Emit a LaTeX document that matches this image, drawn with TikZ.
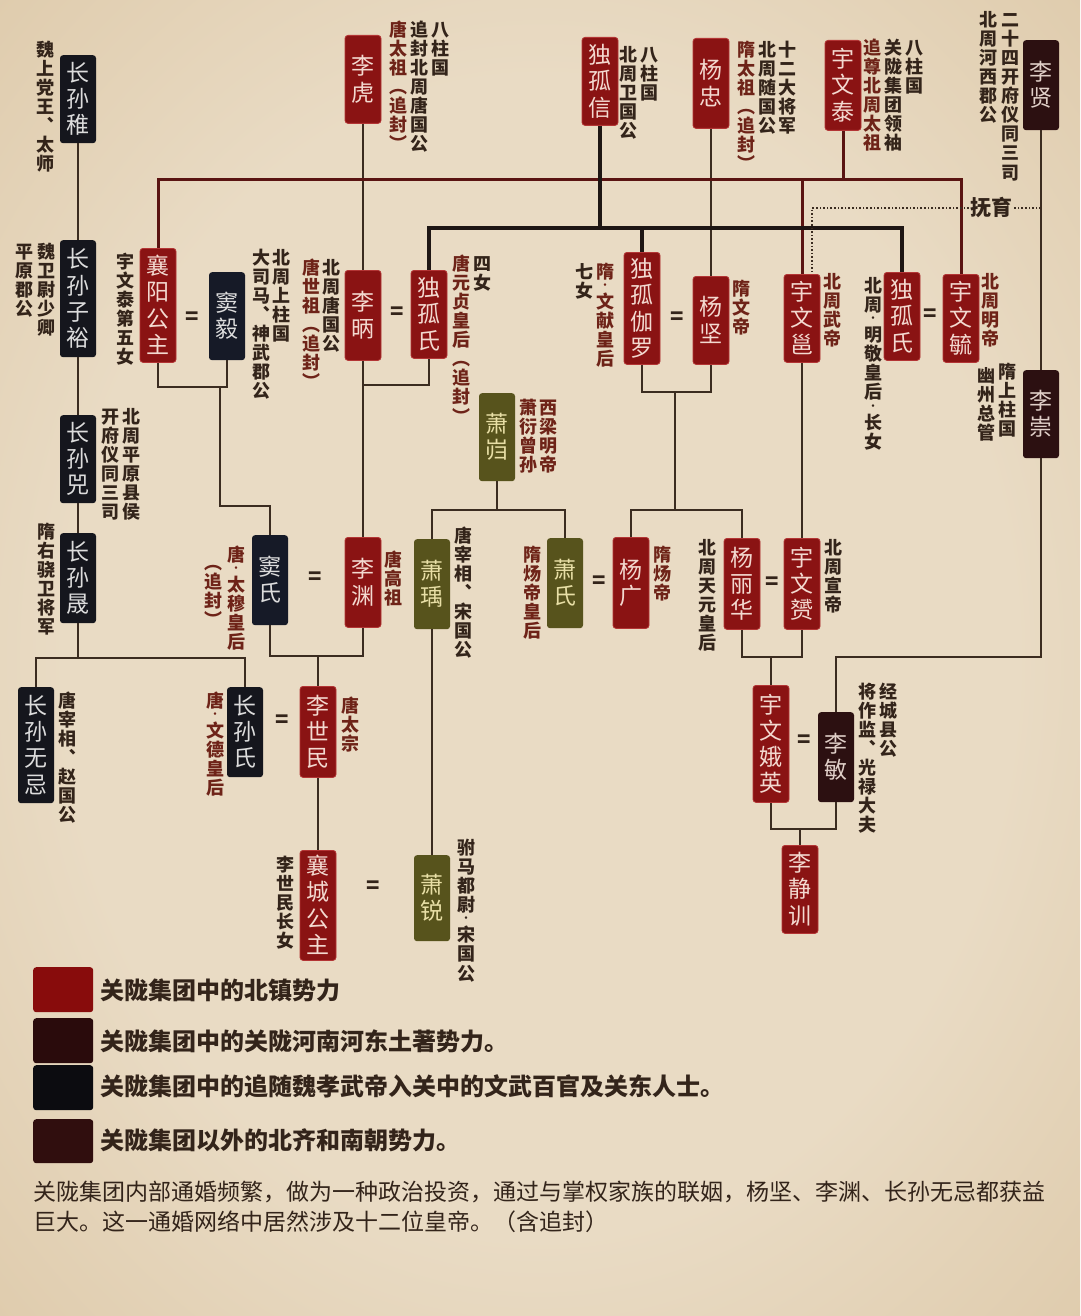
\documentclass[tikz,border=0pt]{standalone}
\usepackage{fontspec}
\setmainfont{Noto Sans CJK SC}
\usetikzlibrary{calc}

\definecolor{bgin}{HTML}{E9DBC4}
\definecolor{bgmid}{HTML}{DCC7A6}
\definecolor{bgout}{HTML}{BF9F76}
\definecolor{bxred}{HTML}{8A1313}
\definecolor{bxredd}{HTML}{B33535}
\definecolor{bxredt}{HTML}{F3D9D0}
\definecolor{bxblk}{HTML}{15161D}
\definecolor{bxblkt}{HTML}{DCDCDC}
\definecolor{bxnavy}{HTML}{161A27}
\definecolor{bxmar}{HTML}{2C1011}
\definecolor{bxmart}{HTML}{E0CFC8}
\definecolor{bxolv}{HTML}{57531C}
\definecolor{bxolvt}{HTML}{E8DFA6}
\definecolor{labd}{HTML}{33241A}
\definecolor{labr}{HTML}{6E2318}
\definecolor{lnred}{HTML}{5A1412}
\definecolor{lnblk}{HTML}{1E1614}
\definecolor{lnthin}{HTML}{3B2C20}
\definecolor{lg1}{HTML}{880C0C}
\definecolor{lg2}{HTML}{2A0B0C}
\definecolor{lg3}{HTML}{0C0C10}
\definecolor{lg4}{HTML}{300E0E}

\pgfdeclareradialshading{parch}{\pgfpoint{0bp}{0bp}}{color(0bp)=(bgin); color(22bp)=(bgin); color(40bp)=(bgmid); color(52bp)=(bgout); color(72bp)=(bgout)}

\def\vtf{1.06}
\makeatletter
\newcommand\vcell[1]{\vbox to \vtf em{\vss\hbox to 1em{\hss\raisebox{0pt}[0.84em][0.1em]{#1}\hss}\vss}}
\newcommand\vdcell{\vbox to 0.62em{\vss\hbox to 1em{\hss{\fontsize{9}{9}\selectfont\raisebox{-3.4pt}{\smash{·}}}\hss}\vss}}
\def\vt#1{\vbox{\offinterlineskip\vt@#1\@nil}}
\def\vt@#1{\ifx#1\@nil\else\vt@@{#1}\expandafter\vt@\fi}
\def\vt@@#1{\ifx#1·\vdcell\else\vcell{#1}\fi}
\makeatother

\newcommand\boxfont{\fontsize{23}{23}\selectfont\def\vtf{1.14}}
\newcommand\labfont{\fontsize{18}{18}\selectfont\bfseries\def\vtf{1.06}}
\newcommand\legfont{\fontsize{24}{24}\selectfont\bfseries}
\newcommand\parfont{\fontsize{23}{23}\selectfont}

\tikzset{
  bx/.style={rectangle, rounded corners=3pt, inner sep=0pt, minimum width=36pt, minimum height=88pt, anchor=north, font=\boxfont},
  bred/.style={bx, fill=bxred, draw=bxredd, line width=0.8pt, text=bxredt},
  bblk/.style={bx, fill=bxblk, text=bxblkt},
  bnavy/.style={bx, fill=bxnavy, text=bxblkt},
  bmar/.style={bx, fill=bxmar, text=bxmart},
  bolv/.style={bx, fill=bxolv, text=bxolvt},
  lb/.style={inner sep=0pt, anchor=north, font=\labfont, text=labd},
  lbr/.style={lb, text=labr},
  eqs/.style={inner sep=0pt, font=\fontsize{22}{22}\selectfont\bfseries, text=labd},
  lred/.style={draw=lnred, line width=3pt},
  lblk/.style={draw=lnblk, line width=3.4pt},
  lthin/.style={draw=lnthin, line width=1.4pt},
  ldot/.style={draw=lnthin, line width=1.6pt, dotted},
  sw/.style={rectangle, rounded corners=3pt, inner sep=0pt, minimum width=60pt, minimum height=45pt, anchor=north west},
  legt/.style={inner sep=0pt, anchor=west, font=\legfont, text=labd},
  part/.style={inner sep=0pt, anchor=west, font=\parfont, text=labd}
}

\begin{document}
\begin{tikzpicture}[x=1pt,y=-1pt]
\useasboundingbox (0,0) rectangle (1080,1316);
\shade[shading=parch] (0,0) rectangle (1080,1316);

% ---------- boxes ----------
\node[bblk] (czhi) at (78,55) {\vt{长孙稚}};
\node[bred] (lihu) at (363,35) {\vt{李虎}};
\node[bred] (dgx) at (600,37) {\vt{独孤信}};
\node[bred, minimum height=90pt] (yzh) at (711,38) {\vt{杨忠}};
\node[bred, minimum height=90pt] (ywt) at (843,40) {\vt{宇文泰}};
\node[bmar, minimum height=90pt] (lxian) at (1041,40) {\vt{李贤}};

\node[bblk, minimum height=117pt] (czy) at (78,240) {\vt{长孙子裕}};
\node[bred, minimum height=114pt] (xygz) at (158,248) {\vt{襄阳公主}};
\node[bnavy] (dyi) at (227,272) {\vt{窦毅}};
\node[bred, minimum height=90pt] (libing) at (363,270) {\vt{李昞}};
\node[bred] (dgs1) at (429,270) {\vt{独孤氏}};
\node[bred, minimum height=112pt] (dgjl) at (642,252) {\vt{独孤伽罗}};
\node[bred] (yjian) at (711,276) {\vt{杨坚}};
\node[bred] (ywyong) at (802,274) {\vt{宇文邕}};
\node[bred] (dgs2) at (902,272) {\vt{独孤氏}};
\node[bred] (ywyu) at (961,274) {\vt{宇文毓}};
\node[bmar] (lchong) at (1041,370) {\vt{李崇}};
\node[bblk] (csi) at (78,415) {\vt{长孙兕}};
\node[bolv] (xkui) at (497,393) {\vt{萧岿}};

\node[bblk, minimum height=90pt] (csheng) at (78,533) {\vt{长孙晟}};
\node[bnavy, minimum height=90pt] (dshi) at (270,535) {\vt{窦氏}};
\node[bred, minimum height=90pt] (lyuan) at (363,537) {\vt{李渊}};
\node[bolv, minimum height=90pt] (xyu) at (432,539) {\vt{萧瑀}};
\node[bolv, minimum height=90pt] (xshi) at (565,538) {\vt{萧氏}};
\node[bred, minimum height=91pt] (yguang) at (631,537) {\vt{杨广}};
\node[bred, minimum height=91pt] (ylh) at (742,538) {\vt{杨丽华}};
\node[bred, minimum height=91pt] (ywyun) at (802,538) {\vt{宇文赟}};

\node[bblk, minimum height=116pt] (cswj) at (36,687) {\vt{长孙无忌}};
\node[bblk, minimum height=90pt] (csshi) at (245,687) {\vt{长孙氏}};
\node[bred, minimum height=91pt] (lsm) at (318,686) {\vt{李世民}};
\node[bred, minimum height=117pt] (ywey) at (771,685) {\vt{宇文娥英}};
\node[bmar, minimum height=90pt] (lmin) at (836,712) {\vt{李敏}};

\node[bred, minimum height=110pt] (xcgz) at (318,850) {\vt{襄城公主}};
\node[bolv, minimum height=86pt] (xrui) at (432,855) {\vt{萧锐}};
\node[bred] (ljx) at (800,845) {\vt{李静训}};

% ---------- equal signs ----------
\node[eqs] (e1) at (192,318) {=};
\node[eqs] (e2) at (397,313) {=};
\node[eqs] (e3) at (677,318) {=};
\node[eqs] (e4) at (930,315) {=};
\node[eqs] (e5) at (315,578) {=};
\node[eqs] (e6) at (599,582) {=};
\node[eqs] (e7) at (772,583) {=};
\node[eqs] (e8) at (282,721) {=};
\node[eqs] (e9) at (804,741) {=};
\node[eqs] (e10) at (373,887) {=};

% ---------- connectors ----------
\coordinate (ry) at (0,180);
\coordinate (by) at (0,228);
\draw[lthin] (lihu) -- (libing);
\draw[lthin] (yzh) -- (yjian);
\draw[lred] (xygz.north) -- (xygz.north |- ry) -- (ywyu.north |- ry) -- (ywyu.north);
\draw[lred] (ywt.south) -- (ywt.south |- ry);
\draw[lred] (ywyong.north |- ry) -- (ywyong.north);
\draw[lblk] (dgx.south) -- (dgx.south |- by);
\draw[lblk] (dgs1.north) -- (dgs1.north |- by) -- (dgs2.north |- by) -- (dgs2.north);
\draw[lblk] (dgjl.north |- by) -- (dgjl.north);

\draw[lthin] (czhi) -- (czy);
\draw[lthin] (czy) -- (csi);
\draw[lthin] (csi) -- (csheng);
\draw[lthin] (lxian) -- (lchong);
\draw[lthin] (ywyong) -- (ywyun);
\draw[lthin] (lsm) -- (xcgz);
\draw[lthin] (xyu) -- (xrui);

\coordinate (k1) at (220,387);
\draw[lthin] (xygz.south) -- (xygz.south |- k1) -- (dyi.south |- k1) -- (dyi.south);
\draw[lthin] (k1) -- ++(0,119) -| (dshi.north);

\coordinate (k2) at (363,385);
\draw[lthin] (libing.south) -- (libing.south |- k2) -- (dgs1.south |- k2) -- (dgs1.south);
\draw[lthin] (k2) -- (lyuan.north);

\coordinate (k3) at (675,392);
\coordinate (k3b) at (675,510);
\draw[lthin] (dgjl.south) -- (dgjl.south |- k3) -- (yjian.south |- k3) -- (yjian.south);
\draw[lthin] (k3) -- (k3b);
\draw[lthin] (yguang.north) -- (yguang.north |- k3b) -- (ylh.north |- k3b) -- (ylh.north);

\coordinate (k4) at (497,510);
\draw[lthin] (xkui.south) -- (k4);
\draw[lthin] (xyu.north) -- (xyu.north |- k4) -- (xshi.north |- k4) -- (xshi.north);

\coordinate (k5) at (78,658);
\draw[lthin] (csheng.south) -- (k5);
\draw[lthin] (cswj.north) -- (cswj.north |- k5) -- (csshi.north |- k5) -- (csshi.north);

\coordinate (k6) at (318,656);
\draw[lthin] (dshi.south) -- (dshi.south |- k6) -- (lyuan.south |- k6) -- (lyuan.south);
\draw[lthin] (k6) -- (lsm.north);

\coordinate (k7) at (771,657);
\draw[lthin] (ylh.south) -- (ylh.south |- k7) -- (ywyun.south |- k7) -- (ywyun.south);
\draw[lthin] (k7) -- (ywey.north);

\coordinate (k8) at (800,829);
\draw[lthin] (ywey.south) -- (ywey.south |- k8) -- (lmin.south |- k8) -- (lmin.south);
\draw[lthin] (k8) -- (ljx.north);

\coordinate (k9) at (1041,657);
\draw[lthin] (lchong.south) -- (k9) -| (lmin.north);

\node[inner sep=1pt, font=\fontsize{21}{21}\selectfont\bfseries, text=labd] (fuyu) at (991,208) {抚育};
\coordinate (fd) at (812,208);
\draw[ldot] (lxian.south |- fuyu) -- (fuyu.east);
\draw[ldot] (fuyu.west) -- (fd) -- (fd |- ywyong.north);

% ---------- labels ----------
\node[lb] (t1) at (45,40) {\vt{魏上党王︑太师}};
\node[lb] (t2) at (440,20) {\vt{八柱国}};
\node[lb] (t3) at (419,20) {\vt{追封北周唐国公}};
\node[lbr] (t4) at (398,20) {\vt{唐太祖︵追封︶}};
\node[lb] (t5) at (649,45) {\vt{八柱国}};
\node[lb] (t6) at (628,45) {\vt{北周卫国公}};
\node[lb] (t7) at (787,40) {\vt{十二大将军}};
\node[lb] (t8) at (767,40) {\vt{北周随国公}};
\node[lbr] (t9) at (746,40) {\vt{隋太祖︵追封︶}};
\node[lb] (t10) at (914,38) {\vt{八柱国}};
\node[lb] (t11) at (893,38) {\vt{关陇集团领袖}};
\node[lbr] (t12) at (872,38) {\vt{追尊北周太祖}};
\node[lb] (t13) at (1010,10) {\vt{二十四开府仪同三司}};
\node[lb] (t14) at (988,10) {\vt{北周河西郡公}};

\node[lb] (t15) at (46,242) {\vt{魏卫尉少卿}};
\node[lb] (t16) at (25,242) {\vt{平原郡公}};
\node[lb] (t17) at (125,252) {\vt{宇文泰第五女}};
\node[lb] (t18) at (281,248) {\vt{北周上柱国}};
\node[lb] (t19) at (261,248) {\vt{大司马︑神武郡公}};
\node[lb] (t20) at (331,258) {\vt{北周唐国公}};
\node[lbr] (t21) at (311,258) {\vt{唐世祖︵追封︶}};
\node[lb] (t22) at (482,254) {\vt{四女}};
\node[lbr] (t23) at (461,254) {\vt{唐元贞皇后︵追封︶}};
\node[lbr] (t24) at (605,262) {\vt{隋·文献皇后}};
\node[lb] (t25) at (584,262) {\vt{七女}};
\node[lbr] (t26) at (741,279) {\vt{隋文帝}};
\node[lbr] (t27) at (832,272) {\vt{北周武帝}};
\node[lb] (t28) at (873,276) {\vt{北周·明敬皇后·长女}};
\node[lbr] (t29) at (990,272) {\vt{北周明帝}};
\node[lb] (t30) at (1007,362) {\vt{隋上柱国}};
\node[lb] (t31) at (986,366) {\vt{幽州总管}};
\node[lb] (t32) at (131,407) {\vt{北周平原县侯}};
\node[lb] (t33) at (110,407) {\vt{开府仪同三司}};
\node[lbr] (t34) at (548,398) {\vt{西梁明帝}};
\node[lbr] (t35) at (528,398) {\vt{萧衍曾孙}};

\node[lb] (t36) at (46,522) {\vt{隋右骁卫将军}};
\node[lbr] (t37) at (236,545) {\vt{唐·太穆皇后}};
\node[lbr] (t38) at (213,553) {\vt{︵追封︶}};
\node[lbr] (t39) at (393,550) {\vt{唐高祖}};
\node[lb] (t40) at (463,526) {\vt{唐宰相︑宋国公}};
\node[lbr] (t41) at (532,545) {\vt{隋炀帝皇后}};
\node[lbr] (t42) at (662,545) {\vt{隋炀帝}};
\node[lb] (t43) at (707,538) {\vt{北周天元皇后}};
\node[lb] (t44) at (833,538) {\vt{北周宣帝}};

\node[lb] (t45) at (67,691) {\vt{唐宰相︑赵国公}};
\node[lbr] (t46) at (215,691) {\vt{唐·文德皇后}};
\node[lbr] (t47) at (350,696) {\vt{唐太宗}};
\node[lb] (t48) at (888,682) {\vt{经城县公}};
\node[lb] (t49) at (867,682) {\vt{将作监︑光禄大夫}};
\node[lb] (t50) at (285,855) {\vt{李世民长女}};
\node[lb] (t51) at (466,838) {\vt{驸马都尉·宋国公}};

% ---------- legend ----------
\node[sw, fill=lg1] (sw1) at (33,967) {};
\node[sw, fill=lg2] (sw2) at (33,1018) {};
\node[sw, fill=lg3] (sw3) at (33,1065) {};
\node[sw, fill=lg4, minimum height=44pt] (sw4) at (33,1119) {};
\node[legt] (lt1) at (100,990) {关陇集团中的北镇势力};
\node[legt] (lt2) at (100,1041) {关陇集团中的关陇河南河东土著势力。};
\node[legt] (lt3) at (100,1086) {关陇集团中的追随魏孝武帝入关中的文武百官及关东人士。};
\node[legt] (lt4) at (100,1140) {关陇集团以外的北齐和南朝势力。};
\node[part] (p1) at (33,1192) {关陇集团内部通婚频繁，做为一种政治投资，通过与掌权家族的联姻，杨坚、李渊、长孙无忌都获益};
\node[part] (p2) at (33,1222) {巨大。这一通婚网络中居然涉及十二位皇帝。（含追封）};
\end{tikzpicture}
\end{document}
